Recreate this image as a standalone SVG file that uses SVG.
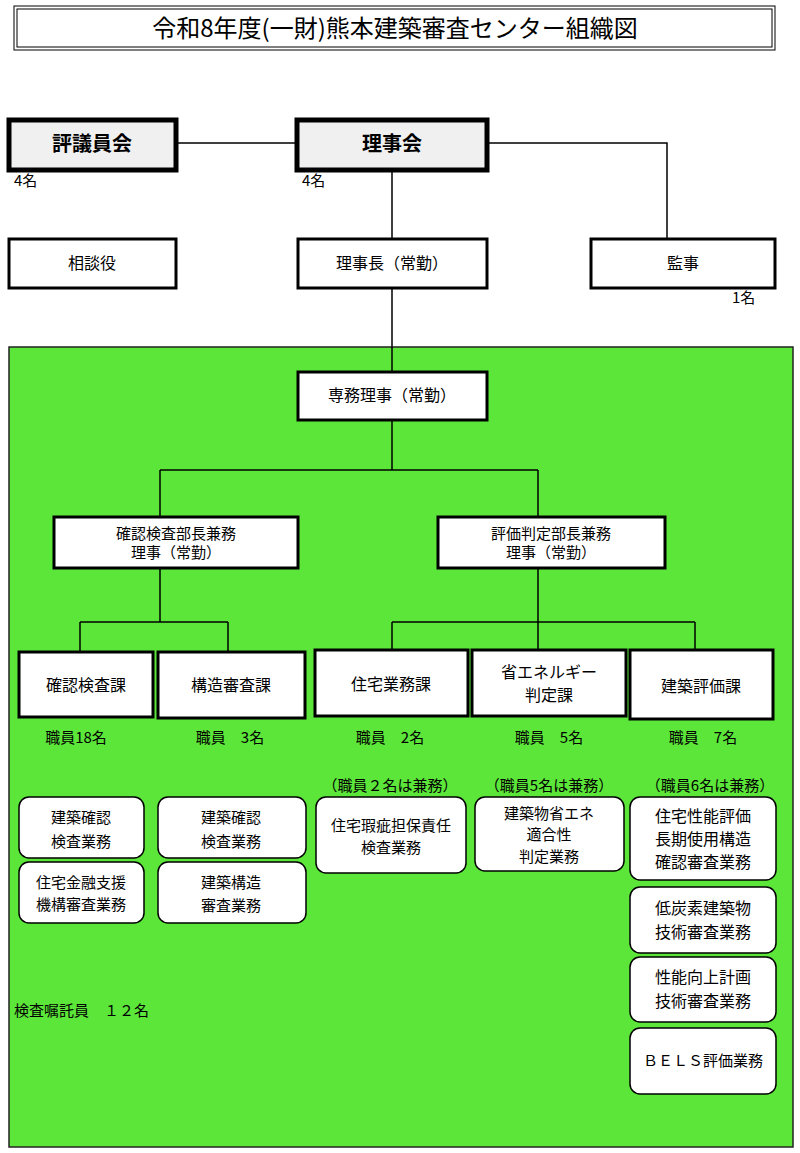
<svg xmlns="http://www.w3.org/2000/svg" width="800" height="1153" viewBox="0 0 800 1153">
<style>
text{font-family:"Noto Sans CJK JP","Liberation Sans",sans-serif;fill:#000;text-anchor:middle}
.b{fill:#fff;stroke:#000;stroke-width:3}
.k{fill:#f0f0f0;stroke:#000;stroke-width:5}
.r{fill:#fff;stroke:#000;stroke-width:1.5}
.c{fill:none;stroke:#000;stroke-width:1.5}
.s{font-size:15px}
.m{font-size:16px}
.l{font-size:20px;font-weight:bold}
.n{font-size:15px;text-anchor:start}
</style>
<rect x="0" y="0" width="800" height="1153" fill="#fff"/>
<g id="title"><rect x="14" y="6" width="761" height="44" fill="#fff" stroke="#000" stroke-width="1"/><rect x="17" y="9" width="755" height="38" fill="none" stroke="#000" stroke-width="1"/><text x="395" y="37" font-size="24">令和8年度(一財)熊本建築審査センター組織図</text></g>
<rect id="bg" x="9" y="347" width="784" height="800" fill="#5ce63a" stroke="#222" stroke-width="1.5"/>
<g id="connectors">
<path class="c" d="M176 143H297M487 143H667V240M392 170V239M392 288V372M392 420V470M160 470H538M160 470V517M538 470V517M160 568V622M80 622H228M80 622V652M228 622V652M538 568V622M392 622H695M392 622V650M538 622V650M695 622V650"/>
</g>
<g id="hyogiin"><rect class="k" x="9" y="120" width="167" height="50"/><text class="l" x="92" y="151">評議員会</text><text class="n" x="14" y="186">4名</text></g>
<g id="rijikai"><rect class="k" x="297" y="120" width="190" height="50"/><text class="l" x="392" y="151">理事会</text><text class="n" x="302" y="186">4名</text></g>
<g id="sodanyaku"><rect class="b" x="9" y="239" width="167" height="49"/><text class="m" x="92" y="269">相談役</text></g>
<g id="rijicho"><rect class="b" x="298" y="239" width="189" height="49"/><text class="m" x="392" y="269">理事長（常勤）</text></g>
<g id="kanji"><rect class="b" x="591" y="239" width="184" height="49"/><text class="m" x="683" y="269">監事</text><text class="n" x="732" y="303">1名</text></g>
<g id="senmu"><rect class="b" x="298" y="372" width="189" height="48"/><text class="m" x="392" y="401">専務理事（常勤）</text></g>
<g id="kakunin-bucho"><rect class="b" x="54" y="517" width="244" height="51"/><text class="s" x="176" y="539">確認検査部長兼務</text><text class="s" x="176" y="558">理事（常勤）</text></g>
<g id="hyoka-bucho"><rect class="b" x="438" y="517" width="227" height="51"/><text class="s" x="551" y="539">評価判定部長兼務</text><text class="s" x="551" y="558">理事（常勤）</text></g>
<g id="ka1"><rect class="b" x="19" y="652" width="134" height="65"/><text class="m" x="86" y="691">確認検査課</text><text class="s" x="76" y="743">職員18名</text></g>
<g id="ka2"><rect class="b" x="158" y="652" width="147" height="66"/><text class="m" x="231" y="691">構造審査課</text><text class="s" x="230" y="743">職員　3名</text></g>
<g id="ka3"><rect class="b" x="315" y="650" width="153" height="66"/><text class="m" x="391" y="690">住宅業務課</text><text class="s" x="390" y="743">職員　2名</text></g>
<g id="ka4"><rect class="b" x="472" y="650" width="154" height="66"/><text class="m" x="549" y="678">省エネルギー</text><text class="m" x="549" y="701">判定課</text><text class="s" x="549" y="743">職員　5名</text></g>
<g id="ka5"><rect class="b" x="630" y="650" width="143" height="69"/><text class="m" x="701" y="692">建築評価課</text><text class="s" x="703" y="743">職員　7名</text></g>
<g id="note3"><text class="s" x="390" y="791">（職員２名は兼務）</text></g>
<g id="note4"><text class="s" x="549" y="791">（職員5名は兼務）</text></g>
<g id="note5"><text class="s" x="710" y="791">（職員6名は兼務）</text></g>
<g id="g1"><rect class="r" x="19" y="797" width="125" height="61" rx="10"/><text class="s" x="81" y="823">建築確認</text><text class="s" x="81" y="847">検査業務</text></g>
<g id="g2"><rect class="r" x="19" y="862" width="125" height="61" rx="10"/><text class="s" x="81" y="888">住宅金融支援</text><text class="s" x="81" y="910">機構審査業務</text></g>
<g id="g3"><rect class="r" x="158" y="797" width="148" height="61" rx="10"/><text class="s" x="231" y="823">建築確認</text><text class="s" x="231" y="847">検査業務</text></g>
<g id="g4"><rect class="r" x="158" y="862" width="148" height="61" rx="10"/><text class="s" x="231" y="888">建築構造</text><text class="s" x="231" y="911">審査業務</text></g>
<g id="g5"><rect class="r" x="316" y="797" width="150" height="76" rx="10"/><text class="s" x="391" y="831">住宅瑕疵担保責任</text><text class="s" x="391" y="853">検査業務</text></g>
<g id="g6"><rect class="r" x="475" y="797" width="149" height="74" rx="10"/><text class="s" x="549" y="819">建築物省エネ</text><text class="s" x="549" y="840">適合性</text><text class="s" x="549" y="862">判定業務</text></g>
<g id="g7"><rect class="r" x="630" y="797" width="146" height="83" rx="10"/><text class="m" x="703" y="822">住宅性能評価</text><text class="m" x="703" y="845">長期使用構造</text><text class="m" x="703" y="868">確認審査業務</text></g>
<g id="g8"><rect class="r" x="630" y="887" width="146" height="66" rx="10"/><text class="m" x="703" y="914">低炭素建築物</text><text class="m" x="703" y="938">技術審査業務</text></g>
<g id="g9"><rect class="r" x="630" y="957" width="146" height="65" rx="10"/><text class="m" x="703" y="983">性能向上計画</text><text class="m" x="703" y="1007">技術審査業務</text></g>
<g id="g10"><rect class="r" x="630" y="1028" width="146" height="66" rx="10"/><text class="s" x="703" y="1066">ＢＥＬＳ評価業務</text></g>
<g id="shokutaku"><text class="n" x="14" y="1016">検査嘱託員　１２名</text></g>
</svg>
